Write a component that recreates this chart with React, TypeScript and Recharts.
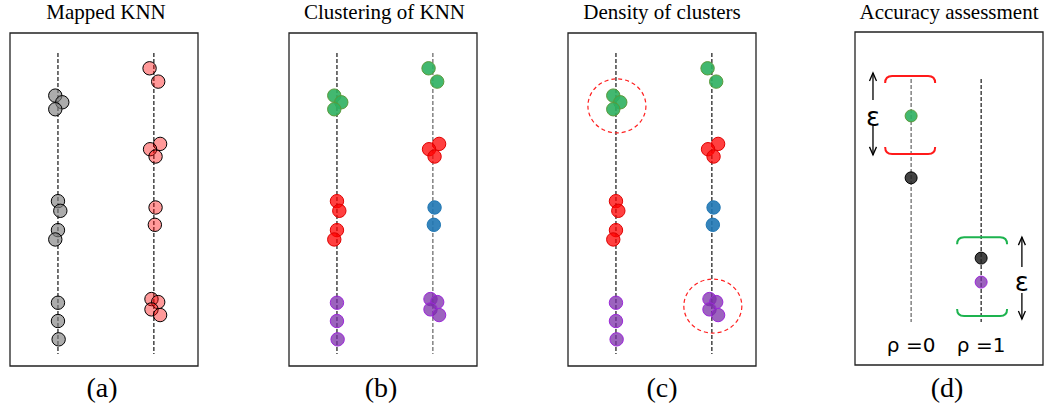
import { ScatterChart, Scatter, XAxis, YAxis, ReferenceLine, ReferenceArea } from "recharts";

// columns of neighbours (same layout in panels a, b, c)
const leftColX = 1;
const rightColX = 3;
const leftY = [81.2, 79.2, 77.1, 49.5, 46.6, 40.8, 38.0, 19.0, 13.5, 8.0];
const leftDx = [-0.056, 0.09, -0.056, 0, 0.049, 0, -0.056, 0, 0, 0.014];
const leftCluster = ["green", "green", "green", "red", "red", "red", "red", "purple", "purple", "purple"];
const rightY = [89.4, 85.4, 66.7, 65.1, 62.9, 47.6, 42.4, 20.1, 19.2, 17.0, 15.3];
const rightDx = [-0.09, 0.09, 0.13, -0.08, 0.035, 0.035, 0.02, -0.05, 0.09, -0.05, 0.13];
const rightCluster = ["green", "green", "red", "red", "red", "blue", "blue", "purple", "purple", "purple", "purple"];
const lineRangeY = [94, 3.6];

// dense clusters circled in (c)
const denseClusters = [
  { x: 1.02, y: 78.1 },
  { x: 3.02, y: 18.0 },
];

// panel (d)
const rhoX = [1.17, 2.63];
const rhoLabels = ["ρ =0", "ρ =1"];
const dLineY = [85.9, 12.9];
const dPoints = [
  { x: 1.17, y: 74.8, c: "green" },
  { x: 1.17, y: 56.2, c: "black" },
  { x: 2.63, y: 32.1, c: "black" },
  { x: 2.63, y: 24.9, c: "purple" },
];
const brackets = [
  { x: 1.15, y: 86.8, side: "top", color: "#ff1a1a" },
  { x: 1.15, y: 63.4, side: "bottom", color: "#ff1a1a" },
  { x: 2.65, y: 38.4, side: "top", color: "#1db34f" },
  { x: 2.65, y: 14.7, side: "bottom", color: "#1db34f" },
];
const arrowX = [0.375, 3.48];
const arrowTips = [
  [87.7, 63.1],
  [38.4, 13.8],
];
const arrowInner = [
  [79.6, 72.1],
  [29.4, 21.6],
];
const epsY = [74.5, 24.9];

const titles = ["Mapped KNN", "Clustering of KNN", "Density of clusters", "Accuracy assessment"];
const titleX = [106, 384.5, 662, 949];
const panelTags = ["(a)", "(b)", "(c)", "(d)"];
const tagX = [102, 381, 662, 947];
const panelLeft = [10, 289, 568, 855];
const panelTop = [33, 33, 33, 32];

const styles: Record<string, { fill: string; op: number; stroke: string }> = {
  gray: { fill: "#808080", op: 0.65, stroke: "#000" },
  pink: { fill: "#ff0000", op: 0.4, stroke: "#000" },
  green: { fill: "#2eb060", op: 0.9, stroke: "#5a9a3a" },
  red: { fill: "#ff0000", op: 0.75, stroke: "#e00000" },
  blue: { fill: "#1f77b4", op: 0.9, stroke: "#1f77b4" },
  purple: { fill: "#7b2fa8", op: 0.75, stroke: "#9c27d9" },
  black: { fill: "#222", op: 0.85, stroke: "#000" },
};

const dot = (key: string, r: number) => (p: any) => {
  const s = styles[key];
  return (
    <circle cx={p.cx} cy={p.cy} r={r} fill={s.fill} fillOpacity={s.op} stroke={s.stroke} strokeWidth={1} />
  );
};

const bracketShape = (p: any) => {
  const w = 25;
  const d = p.payload.side === "top" ? 7 : -7;
  const { cx, cy } = p;
  const path = `M${cx - w},${cy + d} Q${cx - w},${cy} ${cx - w + 7},${cy} L${cx + w - 7},${cy} Q${cx + w},${cy} ${cx + w},${cy + d}`;
  return <path d={path} fill="none" stroke={p.payload.color} strokeWidth={2} />;
};

const headShape = (p: any) => {
  const d = p.payload.dir === "up" ? 8 : -8;
  return (
    <path
      d={`M${p.cx - 3.5},${p.cy + d} L${p.cx},${p.cy} L${p.cx + 3.5},${p.cy + d}`}
      fill="none"
      stroke="#000"
      strokeWidth={1.3}
    />
  );
};

const textShape = (size: number, family: string) => (p: any) => (
  <text
    x={p.cx}
    y={p.cy}
    textAnchor="middle"
    dominantBaseline="central"
    fontSize={size}
    fontFamily={family}
    fill="#000"
  >
    {p.payload.t}
  </text>
);

const ellipseShape = (p: any) => (
  <ellipse cx={p.cx} cy={p.cy} rx={29} ry={27} fill="none" stroke="#ff2020" strokeWidth={1.2} strokeDasharray="4 3" />
);

function buildSeries(mode: "raw" | "cluster") {
  const groups: Record<string, { x: number; y: number }[]> = {};
  const add = (key: string, pt: { x: number; y: number }) => {
    (groups[key] = groups[key] || []).push(pt);
  };
  leftY.forEach((y, i) => add(mode === "raw" ? "gray" : leftCluster[i], { x: leftColX + leftDx[i], y }));
  rightY.forEach((y, i) => add(mode === "raw" ? "pink" : rightCluster[i], { x: rightColX + rightDx[i], y }));
  return Object.entries(groups);
}

function Frame({ idx, children }: { idx: number; children: any }) {
  return (
    <div style={{ position: "absolute", left: panelLeft[idx] - 1, top: panelTop[idx] - 1 }}>
      <ScatterChart width={190} height={335} margin={{ top: 1, right: 1, bottom: 1, left: 1 }}>
        <XAxis type="number" dataKey="x" domain={[0, 3.92]} allowDataOverflow hide />
        <YAxis type="number" dataKey="y" domain={[0, 100]} allowDataOverflow hide />
        <ReferenceArea x1={0} x2={3.92} y1={0} y2={100} fill="none" stroke="#222" strokeWidth={1.3} />
        {children}
      </ScatterChart>
    </div>
  );
}

function KnnPanel({ idx, mode, rightLine }: { idx: number; mode: "raw" | "cluster"; rightLine: string }) {
  return (
    <Frame idx={idx}>
      <ReferenceLine
        segment={[{ x: leftColX, y: lineRangeY[0] }, { x: leftColX, y: lineRangeY[1] }]}
        stroke="#000"
        strokeWidth={1.1}
        strokeDasharray="4 2"
      />
      <ReferenceLine
        segment={[{ x: rightColX, y: lineRangeY[0] }, { x: rightColX, y: lineRangeY[1] }]}
        stroke={rightLine}
        strokeWidth={1.1}
        strokeDasharray="4 2"
      />
      {buildSeries(mode).map(([key, pts]) => (
        <Scatter key={key} data={pts} shape={dot(key, 6.7)} isAnimationActive={false} />
      ))}
      {idx === 2 && <Scatter data={denseClusters} shape={ellipseShape} isAnimationActive={false} />}
    </Frame>
  );
}

function AccuracyPanel() {
  const heads = arrowX.flatMap((x, i) => [
    { x, y: arrowTips[i][0], dir: "up" },
    { x, y: arrowTips[i][1], dir: "down" },
  ]);
  const eps = arrowX.map((x, i) => ({ x, y: epsY[i], t: "ε" }));
  const rho = rhoX.map((x, i) => ({ x, y: 6.0, t: rhoLabels[i] }));
  return (
    <Frame idx={3}>
      <ReferenceLine
        segment={[{ x: rhoX[0], y: dLineY[0] }, { x: rhoX[0], y: dLineY[1] }]}
        stroke="#555"
        strokeWidth={1.1}
        strokeDasharray="4 2"
      />
      <ReferenceLine
        segment={[{ x: rhoX[1], y: dLineY[0] }, { x: rhoX[1], y: dLineY[1] }]}
        stroke="#000"
        strokeWidth={1.1}
        strokeDasharray="4 2"
      />
      {arrowX.map((x, i) => [
        <ReferenceLine
          key={`a${i}`}
          segment={[{ x, y: arrowTips[i][0] }, { x, y: arrowInner[i][0] }]}
          stroke="#000"
          strokeWidth={1.3}
        />,
        <ReferenceLine
          key={`b${i}`}
          segment={[{ x, y: arrowInner[i][1] }, { x, y: arrowTips[i][1] }]}
          stroke="#000"
          strokeWidth={1.3}
        />,
      ])}
      <Scatter data={brackets} shape={bracketShape} isAnimationActive={false} />
      {dPoints.map((p, i) => (
        <Scatter key={i} data={[p]} shape={dot(p.c, 6)} isAnimationActive={false} />
      ))}
      <Scatter data={heads} shape={headShape} isAnimationActive={false} />
      <Scatter data={eps} shape={textShape(26, "DejaVu Sans")} isAnimationActive={false} />
      <Scatter data={rho} shape={textShape(20, "DejaVu Sans")} isAnimationActive={false} />
    </Frame>
  );
}

export default function App() {
  return (
    <div style={{ position: "absolute", left: 0, top: 0, width: 1058, height: 411, background: "#fff" }}>
      <KnnPanel idx={0} mode="raw" rightLine="#000" />
      <KnnPanel idx={1} mode="cluster" rightLine="#555" />
      <KnnPanel idx={2} mode="cluster" rightLine="#000" />
      <AccuracyPanel />
      <svg width={1058} height={411} style={{ position: "absolute", left: 0, top: 0, pointerEvents: "none" }}>
        {titles.map((t, i) => (
          <text key={t} x={titleX[i]} y={19} textAnchor="middle" fontSize={21} fontFamily="Liberation Serif">
            {t}
          </text>
        ))}
        {panelTags.map((t, i) => (
          <text key={t} x={tagX[i]} y={397} textAnchor="middle" fontSize={28} fontFamily="Liberation Serif">
            {t}
          </text>
        ))}
      </svg>
    </div>
  );
}
